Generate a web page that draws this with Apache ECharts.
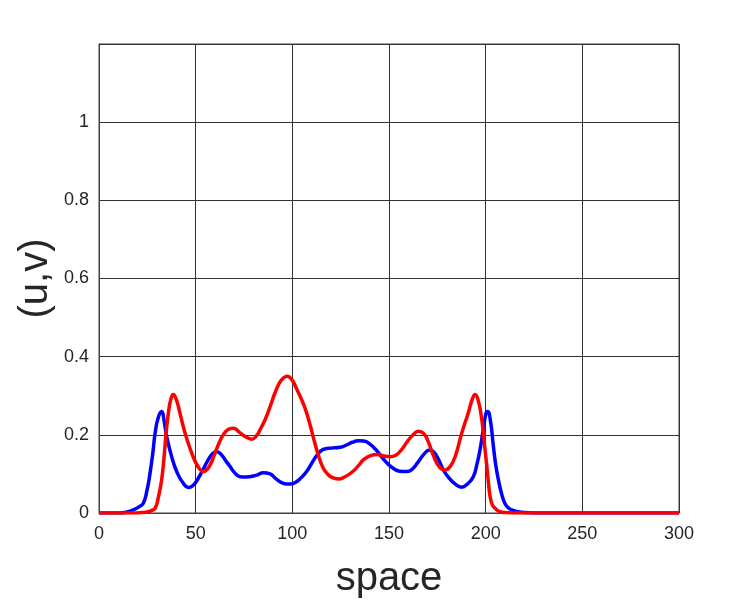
<!DOCTYPE html>
<html>
<head>
<meta charset="utf-8">
<script src="https://cdn.jsdelivr.net/npm/echarts@6/dist/echarts.min.js"></script>
<style>
  html, body { margin: 0; padding: 0; background: #fff; }
  #chart { width: 750px; height: 600px; }
</style>
</head>
<body>
<div id="chart"></div>
<script>
// u (blue)
const uX = [0, 10, 15, 17.7, 20.5, 22.9, 24.7, 26.4, 28, 29, 30.7, 32.4, 33.7, 35, 37.6, 40.2, 43.6, 46.5, 48.5, 50.5, 53.5, 56.5, 58.8, 60.9, 63.5, 65.5, 67.8, 70, 72.9, 76, 81.6, 85, 88.5, 91, 93.6, 96, 98.8, 101.5, 104.5, 107.4, 110, 112.6, 114.8, 116.9, 120, 124.7, 128, 131, 134.1, 137, 140, 143, 146, 149, 152, 155.5, 159.2, 162, 165, 168, 171, 173, 175.5, 178.1, 181, 184, 187.6, 190.5, 193.6, 195.5, 197.1, 198.8, 200.2, 201, 202.5, 204, 205.3, 206.6, 208.2, 209.9, 212, 214, 216, 220, 225, 300];
const uY = [0, 0, 0.003, 0.008, 0.015, 0.025, 0.055, 0.102, 0.16, 0.204, 0.245, 0.26, 0.235, 0.196, 0.144, 0.106, 0.076, 0.065, 0.07, 0.082, 0.108, 0.136, 0.152, 0.157, 0.148, 0.134, 0.119, 0.104, 0.093, 0.092, 0.097, 0.103, 0.1, 0.09, 0.08, 0.075, 0.074, 0.078, 0.09, 0.106, 0.127, 0.147, 0.159, 0.164, 0.166, 0.168, 0.174, 0.181, 0.185, 0.184, 0.177, 0.163, 0.145, 0.128, 0.115, 0.107, 0.106, 0.112, 0.13, 0.15, 0.161, 0.157, 0.138, 0.11, 0.09, 0.075, 0.066, 0.074, 0.093, 0.125, 0.162, 0.215, 0.256, 0.26, 0.235, 0.17, 0.12, 0.085, 0.05, 0.025, 0.012, 0.007, 0.004, 0.001, 0, 0];

// v (red)
const vX = [0, 18, 22, 25.3, 27, 29, 30.7, 32.4, 33.6, 34.7, 36, 37.2, 38.4, 40, 41.9, 43.6, 45.4, 47.1, 49, 50.5, 52, 54, 56, 58, 60, 62, 64.3, 67, 69.5, 72.5, 75.5, 79, 81.5, 83.3, 86, 88.5, 91, 93.5, 95.5, 97.3, 99.5, 102, 104.8, 107, 109.2, 111.7, 114.3, 116, 117.8, 120.5, 123.8, 127, 130.5, 134, 137, 140.4, 144, 147.5, 150.5, 153.5, 156.5, 159.5, 162.5, 165.2, 168, 170.5, 172.9, 176, 179, 181.5, 184.2, 187.6, 191, 193, 194.5, 196.3, 198, 199.3, 200.6, 201.5, 202.3, 203.5, 204.9, 207, 210, 214, 300];
const vY = [0, 0, 0.001, 0.003, 0.006, 0.012, 0.04, 0.085, 0.14, 0.204, 0.26, 0.292, 0.303, 0.29, 0.255, 0.221, 0.19, 0.165, 0.14, 0.125, 0.113, 0.106, 0.112, 0.128, 0.153, 0.178, 0.2, 0.214, 0.217, 0.207, 0.196, 0.189, 0.198, 0.213, 0.24, 0.272, 0.307, 0.334, 0.346, 0.35, 0.343, 0.32, 0.29, 0.262, 0.225, 0.178, 0.135, 0.115, 0.102, 0.091, 0.087, 0.092, 0.103, 0.12, 0.137, 0.147, 0.15, 0.146, 0.144, 0.148, 0.162, 0.183, 0.2, 0.209, 0.203, 0.18, 0.148, 0.118, 0.11, 0.118, 0.144, 0.204, 0.256, 0.29, 0.303, 0.285, 0.238, 0.18, 0.119, 0.075, 0.042, 0.02, 0.012, 0.004, 0.001, 0, 0];

const xTicks = { min: 0, max: 300, step: 50 };
const yTicks = { min: 0, max: 1.2, step: 0.2 };

function pairs(xs, ys) {
  return xs.map((x, i) => [x, ys[i]]);
}

const labelFont = '"Liberation Sans", Arial, sans-serif';

const chart = echarts.init(document.getElementById('chart'), null, { renderer: 'canvas' });

const option = {
  backgroundColor: '#fff',
  animation: false,
  grid: {
    left: 99,
    right: 71,
    top: 44,
    bottom: 87,
    outerBoundsMode: 'none',
    containLabel: false,
    show: true,
    borderColor: '#404040',
    borderWidth: 1
  },
  xAxis: {
    type: 'value',
    min: xTicks.min,
    max: xTicks.max,
    interval: xTicks.step,
    name: 'space',
    nameLocation: 'middle',
    nameGap: 46,
    nameMoveOverlap: false,
    nameTextStyle: { fontSize: 40, color: '#262626', fontFamily: labelFont },
    axisLine: { show: true, lineStyle: { color: '#404040', width: 1 } },
    axisTick: { show: false },
    axisLabel: { margin: 12, fontSize: 18, color: '#262626', fontFamily: labelFont },
    splitLine: { show: true, lineStyle: { color: '#333', width: 1 } }
  },
  yAxis: {
    type: 'value',
    min: yTicks.min,
    max: yTicks.max,
    interval: yTicks.step,
    name: '(u,v)',
    nameLocation: 'middle',
    nameGap: 43,
    nameMoveOverlap: false,
    nameTextStyle: { fontSize: 40, color: '#262626', fontFamily: labelFont },
    axisLine: { show: true, lineStyle: { color: '#404040', width: 1 } },
    axisTick: { show: false },
    axisLabel: {
      margin: 10,
      fontSize: 18,
      color: '#262626',
      fontFamily: labelFont,
      showMaxLabel: false
    },
    splitLine: { show: true, lineStyle: { color: '#333', width: 1 } }
  },
  series: [
    {
      name: 'u',
      type: 'line',
      data: pairs(uX, uY),
      showSymbol: false,
      smooth: 0.5,
      lineStyle: { color: '#0000ff', width: 3.5 },
      itemStyle: { color: '#0000ff' }
    },
    {
      name: 'v',
      type: 'line',
      data: pairs(vX, vY),
      showSymbol: false,
      smooth: 0.5,
      lineStyle: { color: '#ff0000', width: 3.5 },
      itemStyle: { color: '#ff0000' }
    }
  ]
};

chart.setOption(option);
</script>
</body>
</html>
